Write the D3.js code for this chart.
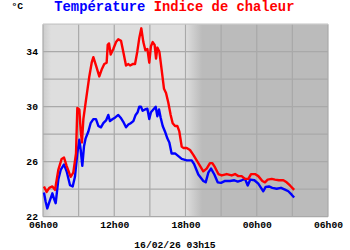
<!DOCTYPE html>
<html>
<head>
<meta charset="utf-8">
<script src="https://cdn.jsdelivr.net/npm/d3@7"></script>
<style>
  html, body { margin: 0; padding: 0; background: #ffffff; }
  svg { display: block; }
  text { font-family: "Liberation Mono", "Courier New", monospace; font-weight: bold; }
</style>
</head>
<body>
<svg id="chart" width="350" height="250"></svg>
<script>
// ---- Data (hours elapsed since 15/02/26 06h00) ----
const seriesNames = ["Température", "Indice de chaleur"];
const seriesColors = ["#0000ff", "#ff0000"];

const tempHours = [0.08,0.22,0.36,0.59,0.79,0.93,1.07,1.29,1.49,1.77,1.99,2.27,2.50,2.69,2.89,3.06,3.17,3.31,3.45,3.59,3.82,4.01,4.24,4.46,4.66,4.88,5.08,5.31,5.50,5.64,5.87,6.06,6.34,6.54,6.76,6.99,7.19,7.38,7.61,7.80,7.97,8.11,8.25,8.39,8.59,8.79,8.95,9.09,9.29,9.49,9.63,9.77,9.91,10.08,10.27,10.47,10.64,10.83,11.12,11.40,11.68,12.10,12.52,12.74,13.08,13.50,13.70,13.92,14.15,14.43,14.71,14.99,15.33,15.75,16.11,16.39,16.73,17.01,17.24,17.46,17.80,18.13,18.36,18.55,18.75,19.03,19.31,19.68,20.04,20.38,20.66,20.94,21.15];
const tempValues = [23.76,23.1,22.6,23.2,23.7,23.3,22.98,24.7,25.4,25.8,25.3,24.3,24.2,24.9,26.6,27.6,26.9,25.7,27.1,27.7,28.2,28.8,29.1,29.1,28.6,28.5,28.8,29.0,29.4,28.95,29.1,29.2,29.4,29.2,28.9,28.5,28.7,28.8,28.95,29.4,29.6,30.0,30.0,29.7,29.8,29.85,29.1,29.6,29.8,30.0,29.3,29.8,29.2,28.6,28.2,27.7,27.4,26.6,26.6,26.4,26.2,26.1,26.1,25.8,25.07,24.6,24.5,25.2,25.5,25.07,24.5,24.46,24.6,24.6,24.65,24.55,24.65,24.75,24.27,24.7,24.65,24.4,24.1,23.85,24.17,24.2,24.1,24.03,24.1,23.97,23.85,23.6,23.4];

const heatHours = [0.08,0.31,0.53,0.79,1.01,1.29,1.57,1.77,1.99,2.33,2.55,2.78,2.89,3.06,3.17,3.28,3.40,3.59,3.90,4.10,4.24,4.46,4.74,4.94,5.16,5.36,5.45,5.56,5.70,5.92,6.15,6.34,6.57,6.76,6.99,7.19,7.33,7.55,7.75,7.94,8.11,8.28,8.45,8.62,8.79,8.95,9.09,9.24,9.40,9.52,9.63,9.80,9.99,10.19,10.36,10.55,10.75,10.92,11.12,11.31,11.48,11.68,11.82,12.10,12.38,12.66,13.08,13.50,13.78,14.06,14.26,14.48,14.77,15.05,15.47,15.89,16.17,16.45,16.73,17.01,17.29,17.52,17.85,18.13,18.47,18.69,18.92,19.26,19.54,19.87,20.24,20.52,20.80,21.15];
const heatValues = [24.2,23.8,24.1,24.2,23.95,25.4,26.2,26.3,25.7,24.9,25.2,26.6,29.9,29.8,28.3,27.4,29.1,30.3,32.2,33.2,33.6,33.0,32.2,32.7,33.1,33.2,34.5,34.6,33.8,34.2,34.7,34.9,34.8,34.0,33.0,33.1,33.0,33.1,33.1,34.0,35.0,35.7,34.7,34.1,34.2,33.2,34.4,34.7,34.5,33.5,34.3,34.0,32.7,31.3,31.0,30.3,29.4,28.8,28.6,28.6,28.2,27.1,27.0,27.0,26.85,26.5,25.9,25.3,25.5,25.9,25.9,25.6,25.1,25.0,25.1,25.0,25.1,24.95,24.95,24.75,24.75,25.1,25.1,24.95,24.6,24.5,24.7,24.75,24.7,24.65,24.65,24.5,24.27,23.95];

const yTickValues = [22, 26, 30, 34];
const yGridValues = [22, 24, 26, 28, 30, 32, 34, 36];
const xTickLabels = ["06h00", "12h00", "18h00", "00h00", "06h00"];
const unitLabel = "°C";
const dateLabel = "16/02/26 03h15";

// ---- Layout ----
const svg = d3.select("#chart");
const plotLeft = 43, plotRight = 328, plotTop = 24.2, plotBottom = 216.7;
const start = new Date(2026, 1, 15, 6, 0);
const end = new Date(2026, 1, 16, 6, 0);
const toDate = h => new Date(start.getTime() + h * 3600000);

const x = d3.scaleTime().domain([start, end]).range([plotLeft, plotRight]);
const y = d3.scaleLinear().domain([22, 36]).range([plotBottom, plotTop]);

// Background with day/night shading
const defs = svg.append("defs");
const nightStart = x(toDate(12.05)), nightFull = x(toDate(13.4));
const night = defs.append("linearGradient").attr("id", "night")
  .attr("gradientUnits", "userSpaceOnUse")
  .attr("x1", nightStart).attr("x2", nightFull).attr("y1", 0).attr("y2", 0);
night.append("stop").attr("offset", 0).attr("stop-color", "#dcdcdc");
night.append("stop").attr("offset", 1).attr("stop-color", "#bbbbbb");
const edge = defs.append("linearGradient").attr("id", "edge")
  .attr("gradientUnits", "userSpaceOnUse")
  .attr("x1", plotLeft).attr("x2", plotLeft + 8).attr("y1", 0).attr("y2", 0);
edge.append("stop").attr("offset", 0).attr("stop-color", "#cccccc");
edge.append("stop").attr("offset", 1).attr("stop-color", "#dedede");

svg.append("rect").attr("x", plotLeft).attr("y", plotTop).attr("width", nightStart - plotLeft).attr("height", plotBottom - plotTop).attr("fill", "url(#edge)");
svg.append("rect").attr("x", nightStart).attr("y", plotTop).attr("width", plotRight - nightStart).attr("height", plotBottom - plotTop).attr("fill", "url(#night)");

// Grid
const gridTimes = d3.timeHour.every(3).range(start, d3.timeMinute.offset(end, 1));
svg.append("g").selectAll("line").data(gridTimes).join("line")
  .attr("x1", d => x(d)).attr("x2", d => x(d)).attr("y1", plotTop).attr("y2", plotBottom)
  .attr("stroke", "#a9a9a9").attr("stroke-width", 1.2);
svg.append("g").selectAll("line").data(yGridValues).join("line")
  .attr("x1", plotLeft).attr("x2", plotRight).attr("y1", d => y(d)).attr("y2", d => y(d))
  .attr("stroke", d => d === 36 ? "#c4c4c4" : "#a9a9a9").attr("stroke-width", 1.2);

// Lines
const line = d3.line().x(d => x(toDate(d[0]))).y(d => y(d[1])).curve(d3.curveLinear);
const series = [
  { hours: tempHours, values: tempValues },
  { hours: heatHours, values: heatValues }
];
series.forEach((s, i) => {
  svg.append("path")
    .datum(s.hours.map((h, j) => [h, s.values[j]]))
    .attr("fill", "none").attr("stroke", seriesColors[i])
    .attr("stroke-width", 2.4).attr("stroke-linejoin", "round")
    .attr("d", line);
});

// Axes labels
const yAxis = d3.axisLeft(y).tickValues(yTickValues).tickSize(0).tickPadding(5).tickFormat(d3.format("d"));
const gy = svg.append("g").attr("transform", `translate(${plotLeft},0)`).call(yAxis);
gy.select(".domain").remove();
gy.selectAll("text").attr("font-size", "9.7px").attr("fill", "#000")
  .attr("font-family", "Liberation Mono").attr("font-weight", "bold");

const xTicks = d3.timeHour.every(6).range(start, d3.timeMinute.offset(end, 1));
const xAxis = d3.axisBottom(x).tickValues(xTicks).tickSize(0).tickPadding(4)
  .tickFormat((d, i) => xTickLabels[i]);
const gx = svg.append("g").attr("transform", `translate(0,${plotBottom})`).call(xAxis);
gx.select(".domain").remove();
gx.selectAll("text").attr("font-size", "9.7px").attr("fill", "#000")
  .attr("font-family", "Liberation Mono").attr("font-weight", "bold");

// Title / legend
const title = svg.append("text").attr("x", 54.3).attr("y", 11.2).attr("font-size", "13.8px");
title.append("tspan").attr("fill", seriesColors[0]).text(seriesNames[0]);
title.append("tspan").attr("fill", seriesColors[1]).text(" " + seriesNames[1]);

svg.append("text").attr("x", 11.5).attr("y", 8.6).attr("font-size", "9.7px").attr("fill", "#000").text(unitLabel);
svg.append("text").attr("x", 175).attr("y", 248).attr("text-anchor", "middle")
  .attr("font-size", "9.7px").attr("fill", "#000").text(dateLabel);
</script>
</body>
</html>
